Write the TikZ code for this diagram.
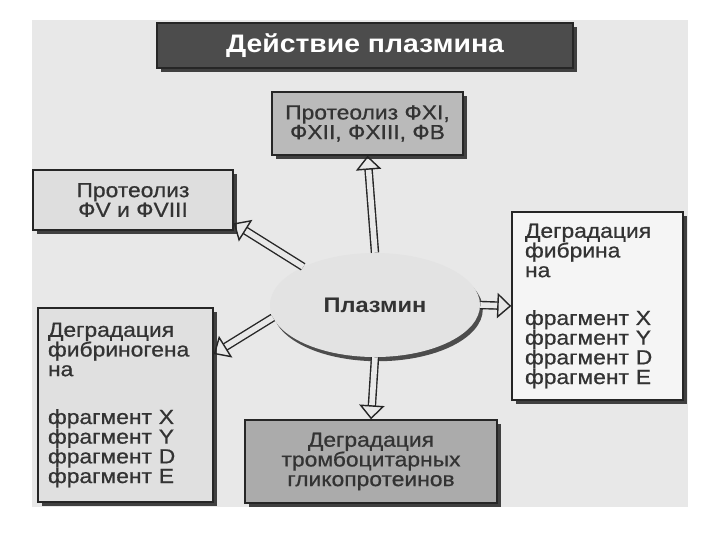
\documentclass[tikz,border=0pt]{standalone}
\usepackage{fontspec}
\setmainfont{Liberation Sans}[FakeStretch=1.12]
\newfontfamily\boxface{Liberation Sans}[FakeStretch=1.12, FakeBold=0.7]
\usetikzlibrary{arrows.meta,shadows,shapes.geometric}
\definecolor{paper}{gray}{0.91}
\newcommand{\boxfont}{\boxface\fontsize{14.5}{14}\selectfont}
\newcommand{\titlefont}{\fontsize{18}{20}\selectfont\bfseries}

\begin{document}
\begin{tikzpicture}[x=0.025cm, y=-0.025cm,
  box/.style={draw=black!85, line width=1pt, text=black!80, font=\boxfont, inner sep=0pt,
    drop shadow={shadow xshift=3pt, shadow yshift=-3pt, fill=black!75, opacity=1}},
  push/.style={draw=black!85, line width=1pt, double=paper, double distance=4pt,
    -{Triangle[open, line width=1pt, length=10pt, width=18pt]}}]
\def\unitpx{0.025cm}

\useasboundingbox (0,0) rectangle (720,540);
\fill[paper] (32,20) rectangle (688,507);

% title
\node[box, fill=black!70, text=white, font=\titlefont, minimum width=416*\unitpx, minimum height=45*\unitpx] (title) at (365,45.5) {Действие плазмина};

% boxes round the centre
\node[box, fill=black!27, align=center, minimum width=191*\unitpx, minimum height=63*\unitpx] (top) at (367.5,123.5) {Протеолиз ФXI,\\ФXII, ФXIII, ФВ};
\node[box, fill=black!13, align=center, minimum width=200*\unitpx, minimum height=60*\unitpx] (left1) at (133,200) {Протеолиз\\ФV и ФVIII};
\node[box, fill=black!4, align=left, text width=145*\unitpx, inner xsep=13*\unitpx, minimum height=188*\unitpx] (right) at (597.5,306) {Деградация\\фибрина\\на\\[20pt]фрагмент X\\фрагмент Y\\фрагмент D\\фрагмент E};
\node[box, fill=black!12, align=left, text width=155*\unitpx, inner xsep=10*\unitpx, minimum height=194*\unitpx] (lb) at (125.5,405) {Деградация\\фибриногена\\на\\[20pt]фрагмент X\\фрагмент Y\\фрагмент D\\фрагмент E};
\node[box, fill=black!33, align=center, minimum width=252*\unitpx, minimum height=83*\unitpx] (bottom) at (371,461.5) {Деградация\\тромбоцитарных\\гликопротеинов};

% centre
\node[ellipse, fill=black!11, text=black!80, inner sep=0pt, font=\fontsize{15}{15}\selectfont\bfseries,
  minimum width=210*\unitpx, minimum height=104*\unitpx,
  drop shadow={shadow xshift=2pt, shadow yshift=-3pt, fill=black!70, opacity=1}] (plasmin) at (375,305) {Плазмин};

\draw[push] (plasmin.north) -- (top.south);
\draw[push] (plasmin.south) -- (bottom.north);
\draw[push] (plasmin.east) -- (right.west);
\draw[push] (plasmin.152) -- (left1.-13);
\draw[push] (plasmin.187) -- (lb.30);

\end{tikzpicture}
\end{document}
